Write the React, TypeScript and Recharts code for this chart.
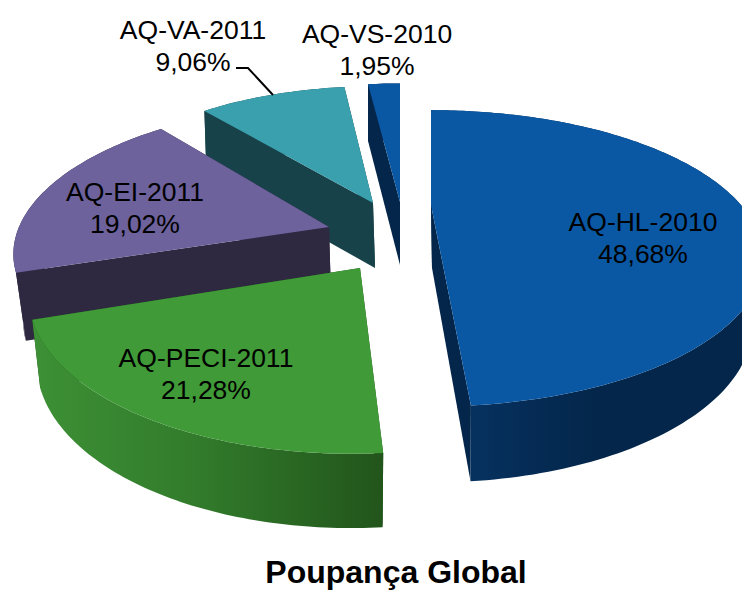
import { PieChart, Pie } from 'recharts';

// drawn back to front, so the list runs counter-clockwise from 12 o'clock
const names = ['AQ-VS-2010', 'AQ-VA-2011', 'AQ-EI-2011', 'AQ-PECI-2011', 'AQ-HL-2010'];
const shares = [1.95, 9.06, 19.02, 21.28, 48.68];
const shareLabels = ['1,95%', '9,06%', '19,02%', '21,28%', '48,68%'];

const data = names.map((name, i) => ({ name, value: shares[i], text: shareLabels[i] }));

// fake 3D: each exploded slice gets its own tilted projection
const LOOK: Record<string, any> = {
  'AQ-HL-2010': { ax: 431, ay: 205, rx: 310, ry: 129, p: 0.36, shear: 0, kx: 0.965, ky: 1.064, h: 63, wdx: 1, face: '#0a58a4', cut: '#04264a', wall: 'url(#wallBlue)', lx: 643, ly: 231 },
  'AQ-PECI-2011': { ax: 360, ay: 268, rx: 327, ry: 159, p: 0.144, shear: -0.045, kx: 0.976, ky: 1.045, h: 66, wdx: 0, face: '#3f9a37', cut: '#22551b', wall: 'url(#wallGreen)', lx: 206, ly: 367 },
  'AQ-EI-2011': { ax: 329, ay: 227, rx: 310, ry: 141, p: 0.139, shear: -0.11, kx: 0.975, ky: 1, h: 68, wdx: 2, face: '#6d629c', cut: '#2e2840', wall: '#2e2840', lx: 135, ly: 201 },
  'AQ-VA-2011': { ax: 373, ay: 203, rx: 292, ry: 130, p: 0.113, shear: -0.03, kx: 1, ky: 1.03, h: 65, wdx: 2, face: '#3aa0ad', cut: '#18424a', wall: '#18424a', lx: 193, ly: 39 },
  'AQ-VS-2010': { ax: 400, ay: 202, rx: 290, ry: 132, p: 0.113, shear: 0, kx: 1, ky: 1.05, h: 63, wdx: 0, face: '#0a58a4', cut: '#04264a', wall: '#04264a', lx: 377, ly: 43 },
};

const rad = Math.PI / 180;

function project(g: any, theta: number, bottom = false) {
  const c = Math.cos(theta * rad);
  const s = Math.sin(theta * rad);
  const d = 1 + g.p * c;
  const oy = (-g.ry * c) / d;
  const ox = (g.rx * s) / d + g.shear * oy;
  if (!bottom) return [g.ax + ox, g.ay + oy];
  return [g.ax + ox * g.kx + g.wdx, g.ay + oy * g.ky + g.h];
}

const toPath = (pts: number[][]) =>
  'M' + pts.map((q) => `${q[0].toFixed(1)},${q[1].toFixed(1)}`).join('L') + 'Z';

function rim(g: any, from: number, to: number, bottom = false) {
  const out: number[][] = [];
  const n = Math.max(2, Math.ceil(to - from));
  for (let i = 0; i <= n; i++) out.push(project(g, from + ((to - from) * i) / n, bottom));
  return out;
}

function Slice3D(props: any) {
  const g = LOOK[props.name];
  if (!g) return null;
  const a = 90 - props.startAngle;
  const b = 90 - props.endAngle;
  const from = Math.min(a, b);
  const to = Math.max(a, b);
  const top = [g.ax, g.ay];
  const low = [g.ax + g.wdx, g.ay + g.h];
  return (
    <g>
      <path d={toPath([top, project(g, from), project(g, from, true), low])} fill={g.cut} />
      <path d={toPath([top, project(g, to), project(g, to, true), low])} fill={g.cut} />
      <path d={toPath([...rim(g, from, to), ...rim(g, from, to, true).reverse()])} fill={g.wall} />
      <path d={toPath([top, ...rim(g, from, to)])} fill={g.face} />
    </g>
  );
}

function SliceLabel(props: any) {
  const g = LOOK[props.name];
  if (!g) return null;
  const style = { fontFamily: '"Liberation Sans", Arial, sans-serif', fontSize: 26.5, fill: '#000' };
  return (
    <g>
      {props.name === 'AQ-VA-2011' && (
        <polyline points="236,68 248,68 273,95" fill="none" stroke="#000" strokeWidth={2} />
      )}
      <text x={g.lx} y={g.ly} textAnchor="middle" style={style}>{props.name}</text>
      <text x={g.lx} y={g.ly + 32} textAnchor="middle" style={style}>{props.payload?.text ?? props.text}</text>
    </g>
  );
}

export default function App() {
  return (
    <div style={{ position: 'absolute', left: 0, top: 0, width: 742, height: 590, background: '#fff', overflow: 'hidden' }}>
      <PieChart width={742} height={590}>
        <defs>
          <linearGradient id="wallBlue" gradientUnits="userSpaceOnUse" x1="472" y1="0" x2="600" y2="0">
            <stop offset="0" stopColor="#06315f" />
            <stop offset="1" stopColor="#04264a" />
          </linearGradient>
          <linearGradient id="wallGreen" gradientUnits="userSpaceOnUse" x1="35" y1="0" x2="383" y2="0">
            <stop offset="0" stopColor="#3d9035" />
            <stop offset="0.45" stopColor="#327c2c" />
            <stop offset="1" stopColor="#22551b" />
          </linearGradient>
        </defs>
        <Pie
          data={data}
          dataKey="value"
          nameKey="name"
          startAngle={-270}
          endAngle={90}
          outerRadius={100}
          stroke="none"
          shape={Slice3D}
          activeShape={Slice3D}
          inactiveShape={Slice3D}
          label={SliceLabel}
          labelLine={false}
          isAnimationActive={false}
        />
        <text x={396} y={583} textAnchor="middle" style={{ fontFamily: '"Liberation Sans", Arial, sans-serif', fontSize: 32, fontWeight: 700, fill: '#000' }}>
          Poupança Global
        </text>
      </PieChart>
    </div>
  );
}
